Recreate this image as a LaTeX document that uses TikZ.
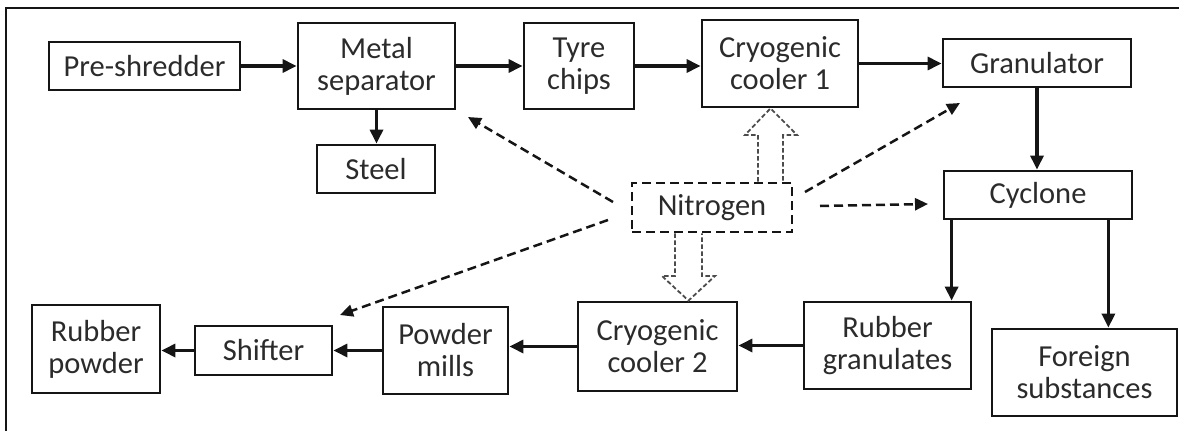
\documentclass[tikz,border=0pt]{standalone}
\usepackage{fontspec}
\setmainfont{Carlito}
\usetikzlibrary{arrows.meta,calc}
\definecolor{txt}{HTML}{2B2B2B}
\definecolor{ln}{HTML}{151515}
\begin{document}
\begin{tikzpicture}[x=1pt,y=-1pt,
  box/.style={draw=ln,line width=2.8pt,inner sep=0pt,align=center,text=txt,
    font=\fontsize{30.5}{32}\selectfont},
  flow/.style={draw=ln,line width=3.2pt,-{Triangle[length=14pt,width=13pt]}},
  dasharrow/.style={draw=ln,line width=2.5pt,dash pattern=on 9pt off 5pt,-{Triangle[length=13pt,width=12pt]}},
  hollow/.style={draw=black!70,line width=1.8pt,dash pattern=on 4.5pt off 2.5pt,line join=miter}]
\useasboundingbox (0,0) rectangle (1179,431);
\draw[line width=2pt,ln] (6,440) -- (6,8) -- (1190,8);

\node[box,minimum width=191pt,minimum height=48pt] (pre) at (144.5,66) {Pre-shredder};
\node[box,minimum width=157pt,minimum height=86pt] (metal) at (376.5,66) {Metal\\separator};
\node[box,minimum width=118pt,minimum height=48pt] (steel) at (376,169) {Steel};
\node[box,minimum width=110pt,minimum height=86pt] (tyre) at (579,66) {Tyre\\chips};
\node[box,minimum width=156pt,minimum height=87pt] (cool1) at (780,63.5) {Cryogenic\\cooler 1};
\node[box,minimum width=188pt,minimum height=48pt] (gran) at (1037,63) {Granulator};
\node[box,minimum width=188pt,minimum height=48pt] (cyc) at (1038,195) {Cyclone};
\node[box,dash pattern=on 9pt off 5pt,minimum width=160pt,minimum height=49pt] (nit) at (712,207.5) {Nitrogen};
\node[box,minimum width=128pt,minimum height=88pt] (rpow) at (96,349) {Rubber\\powder};
\node[box,minimum width=137pt,minimum height=49pt] (shift) at (263.5,350.5) {Shifter};
\node[box,minimum width=125pt,minimum height=87pt] (pmill) at (445.5,350.5) {Powder\\mills};
\node[box,minimum width=159pt,minimum height=89pt] (cool2) at (657.5,346.5) {Cryogenic\\cooler 2};
\node[box,minimum width=167pt,minimum height=87pt] (rgran) at (887.5,345.5) {Rubber\\granulates};
\node[box,minimum width=185pt,minimum height=87pt] (foreign) at (1084.5,372.5) {Foreign\\substances};

% solid flow
\draw[flow] (pre.east) -- (pre.east -| metal.west);
\draw[flow] (metal.east) -- (metal.east -| tyre.west);
\draw[flow] (tyre.east) -- (tyre.east -| cool1.west);
\draw[flow] (cool1.east) -- (cool1.east -| gran.west);
\draw[flow] (metal.south) -- (metal.south |- steel.north);
\draw[flow] (gran.south) -- (gran.south |- cyc.north);
\draw[flow] ([xshift=9pt]cyc.south west) -- ([xshift=9pt]cyc.south west |- rgran.north);
\draw[flow] ([xshift=-25pt]cyc.south east) -- ([xshift=-25pt]cyc.south east |- foreign.north);
\draw[flow] (rgran.west) -- (rgran.west -| cool2.east);
\draw[flow] (cool2.west) -- (cool2.west -| pmill.east);
\draw[flow] (pmill.west) -- (pmill.west -| shift.east);
\draw[flow] (shift.west) -- (shift.west -| rpow.east);

% nitrogen dashed arrows
\coordinate (s1) at (613,202);  \coordinate (t1) at (468,117);
\coordinate (s2) at (608,220);  \coordinate (t2) at (340,315);
\coordinate (s3) at (805,192);  \coordinate (t3) at (960,103);
\coordinate (s4) at (820,206);  \coordinate (t4) at (928,204);
\draw[dasharrow] (s1) -- (t1);
\draw[dasharrow] (s2) -- (t2);
\draw[dasharrow] (s3) -- (t3);
\draw[dasharrow] (s4) -- (t4);

% hollow arrows
\draw[hollow] (nit.north -| 758,0) -- (758,135) -- (745,135) -- (cool1.south -| 770.5,0) -- (797,135) -- (783,135) -- (nit.north -| 783,0);
\draw[hollow] (nit.south -| 675,0) -- (675,276) -- (662,276) -- (cool2.north -| 688.5,0) -- (715,276) -- (702,276) -- (nit.south -| 702,0);
\end{tikzpicture}
\end{document}
